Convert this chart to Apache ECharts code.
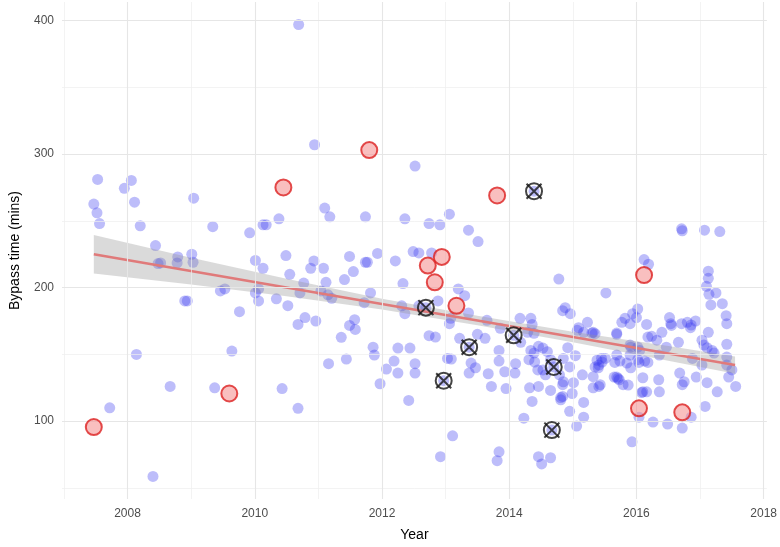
<!DOCTYPE html>
<html>
<head>
<meta charset="utf-8">
<script src="https://cdn.jsdelivr.net/npm/echarts@6/dist/echarts.min.js"></script>
<style>html,body{margin:0;padding:0;background:#fff}#c{width:780px;height:547px}</style>
</head>
<body>
<div id="c"></div>
<script>
// ---- data ----
const xTickLabels = [2008, 2010, 2012, 2014, 2016, 2018];
const yTickLabels = [100, 200, 300, 400];
const xMajorGrid = [2008, 2010, 2012, 2014, 2016, 2018];
const xMinorGrid = [2007, 2009, 2011, 2013, 2015, 2017];
const yMajorGrid = [100, 200, 300, 400];
const yMinorGrid = [50, 150, 250, 350];

const bluePoints = [
[2007.53,281],[2007.47,262.6],[2007.52,256],[2007.56,248],[2007.95,274.4],[2008.06,280.3],[2008.11,264],[2008.2,246.3],[2008.44,231.5],[2008.48,218],[2008.52,218.5],[2008.78,218.5],[2008.79,223],[2009.01,225],[2009.03,219],[2009.04,267],[2009.34,245.6],[2009.92,241],[2010.01,220.4],[2010.13,247],
[2009.46,197.5],[2009.53,199],[2008.9,190],[2008.94,190],[2009.76,182],[2010.01,196],[2010.06,199],[2010.06,190],
[2008.14,150],[2009.64,152.5],[2008.67,126],[2009.37,125],[2007.72,110],[2008.4,58.6],
[2010.69,397],[2010.94,307],[2011.1,259.6],[2011.18,253],[2011.74,253],[2012.36,251.5],[2012.74,248],[2012.91,247],[2013.06,255],[2013.36,243],[2013.51,234.5],[2012.52,291],
[2010.18,247],[2010.38,251.5],[2010.13,214.5],[2010.49,224],[2010.55,210],[2010.88,214.5],[2010.93,220],[2011.08,214.5],[2011.49,223.4],[2011.55,212],[2011.74,219],[2011.77,219],[2011.93,225.6],[2012.21,220],[2012.49,227],[2012.58,226],[2012.78,226],
[2010.77,203.4],[2011.12,204],[2011.41,206],[2012.33,203],[2011.82,196],[2011.04,197.5],[2010.71,196],
[2013.2,199],[2013.3,194],[2014.78,206.4],
[2010.34,191.6],[2010.52,186.5],[2010.79,177.6],[2010.68,172.4],[2010.96,175],[2011.15,194.6],[2011.21,192],[2011.36,162.8],[2011.57,176],[2011.49,171.7],[2011.58,168.7],[2011.72,188.7],[2011.16,143],[2011.44,146.5],[2010.43,124.4],[2010.68,109.6],[2011.86,155.4],[2011.88,149.5],[2011.97,128],[2012.07,139],[2012.19,145],[2012.25,154.7],[2012.25,136],[2012.44,154.7],[2012.52,143],[2012.52,136],[2012.42,115.5],[2012.31,186.4],[2012.36,180.5],
[2013.36,181],[2012.88,190],[2012.58,186.4],[2013.06,173],[2013.08,177],[2012.74,164],[2012.84,163],[2013.65,175.5],[2013.22,162],[2013.5,165],[2013.62,162],[2013.03,147],[2013.09,146.5],[2013.4,143.5],[2013.47,140],[2013.37,136],[2013.67,135.5],[2013.72,126],[2013.95,124.4],[2013.84,153],[2013.84,145],[2013.93,137],[2014.09,136],[2014.1,143],[2013.86,169.5],[2014.17,177],[2014.34,177],[2014.36,172.4],[2014.29,166.5],[2014.39,165.8],[2014.18,159],[2014.34,153],[2014.39,151],[2014.46,156],[2014.53,154.7],[2014.31,146],[2014.4,144.3],[2014.45,138.4],[2014.53,138.4],[2014.57,134.7],[2014.32,125],[2014.46,126],[2014.65,123],[2014.36,114.8],[2014.81,117.7],[2014.84,118.5],[2014.23,102.2],[2013.11,89],[2012.92,73.4],[2013.84,77],[2013.81,70.4],[2014.46,73.4],[2014.51,68],[2014.65,72.6],
[2014.88,185],[2014.96,180.5],[2014.84,182.7],[2015.23,174],[2015.09,170],[2015.07,168],[2015.17,166.5],[2015.32,166.5],[2015.35,140.6],[2015.4,140],[2014.92,155],[2015.04,149],[2014.85,147],[2014.95,140.6],[2015.15,134.7],[2015.01,128.8],[2014.84,127.3],[2014.81,116],[2014.99,120.7],[2015.17,114],[2014.95,107.4],[2015.17,103],[2015.06,96.3],[2014.79,134.7],[2014.85,129.5],[2014.6,152],[2014.65,146],
[2012.69,185],[2013.37,155.4],[2012.97,130.3],[2014.07,164.3],[2014.70,140.6],[2014.67,93.3],[2014.39,272.2],
[2015.52,196],[2015.69,165],[2015.77,174],[2015.82,177],[2015.9,173],[2015.94,180.5],[2016.02,184],[2016.0,177.6],[2016.12,221],[2016.19,217.5],[2016.16,172.4],[2016.18,163],[2016.24,163.5],[2016.32,160.6],[2016.4,166.5],[2016.47,155.4],[2016.52,177.6],[2016.54,173],[2016.55,171.7],[2016.66,159],[2016.71,173],[2016.8,174],[2016.86,172],[2016.85,170],[2016.93,175],
[2015.69,149.5],[2015.66,144],[2015.74,145],[2015.85,143.5],[2015.9,149.5],[2015.91,155.4],[2016.02,146],[2016.04,144],[2016.13,145],[2016.18,144],[2015.91,140],[2015.69,133],[2015.71,132],[2015.87,127],[2016.1,132.5],[2016.16,122],[2016.1,122],[2016.08,121.4],[2016.04,103],[2015.93,84.5],[2016.26,99.3],[2016.36,122],[2016.35,131],[2016.49,97.8],[2016.72,94.8],[2016.86,103],[2016.68,136],[2016.72,127.3],[2016.75,129.5],[2016.94,133],[2017.08,111],[2017.11,128.8],[2017.27,122],[2017.03,160.6],[2017.06,157],[2017.11,155],[2017.22,151],[2017.19,153],[2017.13,166.5],[2016.88,147],[2017.03,142],[2017.42,157.6],[2017.42,142],[2017.5,138.4],[2017.45,133],[2017.56,126],[2017.42,173],[2017.41,179],[2017.35,188],[2017.17,187],[2017.14,195],[2017.1,201],[2017.25,196],[2017.13,212.3],[2017.13,207],[2016.71,244],[2016.72,242.6],[2017.07,243],[2017.31,242],[2017.42,148],
[2015.79,127.3],[2015.73,131],[2015.65,133],[2015.43,127.3],[2015.32,125],[2015.41,142],[2015.46,144.3],[2015.51,147],[2015.38,145.6],[2015.9,157],[2016.02,155.4],[2016.05,153],[2016.36,149.5],[2015.69,166],[2015.3,166],[2015.35,165.5],[2015.32,133.3],[2015.41,126],[2015.45,147]
];

const redPoints = [
[2007.47,95.6],[2009.6,120.7],[2010.45,275],[2011.8,303],[2013.81,269],[2012.94,223],[2012.72,216.5],[2012.83,204],[2013.17,186.4],[2016.12,209.4],[2016.04,109.6],[2016.72,106.6]
];

const crossPoints = [
[2014.39,272.2],[2012.69,185],[2013.37,155.4],[2012.97,130.3],[2014.07,164.3],[2014.70,140.6],[2014.67,93.3]
];

const fitLine = [[2007.47,225],[2017.55,142]];
const bandX  = [2007.47, 2009, 2010.5, 2012, 2013.5, 2015, 2016.5, 2017.55];
const bandLo = [210.5, 202.4, 193.6, 183.7, 171.9, 159, 145.2, 135.5];
const bandHi = [239.5, 222.4, 206.6, 191.7, 178.9, 167, 156.2, 148.5];

// ---- chart ----
const FONT = "'Liberation Sans', Arial, Helvetica, sans-serif";
const majorStyle = {color:'#e6e6e6', width:1.1, type:'solid'};
const minorStyle = {color:'#eeeeee', width:0.7, type:'solid'};
const gridLines = []
  .concat(xMinorGrid.map(v=>({xAxis:v, lineStyle:minorStyle})))
  .concat(yMinorGrid.map(v=>({yAxis:v, lineStyle:minorStyle})))
  .concat(xMajorGrid.map(v=>({xAxis:v, lineStyle:majorStyle})))
  .concat(yMajorGrid.map(v=>({yAxis:v, lineStyle:majorStyle})));

const chart = echarts.init(document.getElementById('c'), null, {renderer:'canvas'});
chart.setOption({
  animation:false,
  backgroundColor:'#ffffff',
  textStyle:{fontFamily:FONT},
  grid:{left:57, right:12, top:2, bottom:41, containLabel:false},
  xAxis:{
    type:'value', min:2006.97, max:2018.05,
    axisLine:{show:false}, axisTick:{show:false}, splitLine:{show:false},
    axisLabel:{customValues:xTickLabels, formatter:v=>String(Math.round(v)), color:'#4d4d4d', fontSize:12, margin:9, fontFamily:FONT},
    name:'Year', nameLocation:'middle', nameGap:29,
    nameTextStyle:{color:'#000', fontSize:14, fontFamily:FONT}
  },
  yAxis:{
    type:'value', min:41.7, max:413.9,
    axisLine:{show:false}, axisTick:{show:false}, splitLine:{show:false},
    axisLabel:{customValues:yTickLabels, formatter:v=>String(Math.round(v)), color:'#4d4d4d', fontSize:12, margin:8, fontFamily:FONT},
    name:'Bypass time (mins)', nameLocation:'middle', nameGap:40, nameRotate:90,
    nameTextStyle:{color:'#000', fontSize:14, fontFamily:FONT}
  },
  series:[
    {type:'scatter', data:[], z:0, silent:true,
     markLine:{silent:true, symbol:['none','none'], label:{show:false}, animation:false, data:gridLines}},
    {type:'scatter', data:bluePoints, symbol:'circle', symbolSize:11, z:2, silent:true,
     itemStyle:{color:'rgba(50,50,240,0.40)', borderWidth:0}},
    {type:'custom', z:3, silent:true,
     data:bandX.map((x,i)=>[x,bandLo[i],bandHi[i]]),
     encode:{x:0, y:[1,2]},
     renderItem:function(params, api){
       if (params.dataIndex !== 0) return null;
       const pts = [];
       for (let i=0;i<bandX.length;i++) pts.push(api.coord([bandX[i], bandHi[i]]));
       for (let i=bandX.length-1;i>=0;i--) pts.push(api.coord([bandX[i], bandLo[i]]));
       return {type:'polygon', shape:{points:pts}, style:{fill:'rgba(150,150,150,0.35)'}};
     }},
    {type:'line', data:fitLine, showSymbol:false, z:4, silent:true,
     lineStyle:{color:'#e07a7a', width:2.6}},
    {type:'scatter', data:redPoints, symbol:'circle', symbolSize:16, z:5, silent:true,
     itemStyle:{color:'rgba(245,140,140,0.7)', borderColor:'#dc2020', borderWidth:2}},
    {type:'scatter', data:crossPoints, symbol:'circle', symbolSize:16, z:6, silent:true,
     itemStyle:{color:'rgba(0,0,0,0)', borderColor:'#151515', borderWidth:2}},
    {type:'scatter', data:crossPoints, symbol:'path://M0,0L10,10M10,0L0,10', symbolSize:15, z:7, silent:true,
     itemStyle:{color:'none', borderColor:'#151515', borderWidth:2}}
  ]
});
</script>
</body>
</html>
